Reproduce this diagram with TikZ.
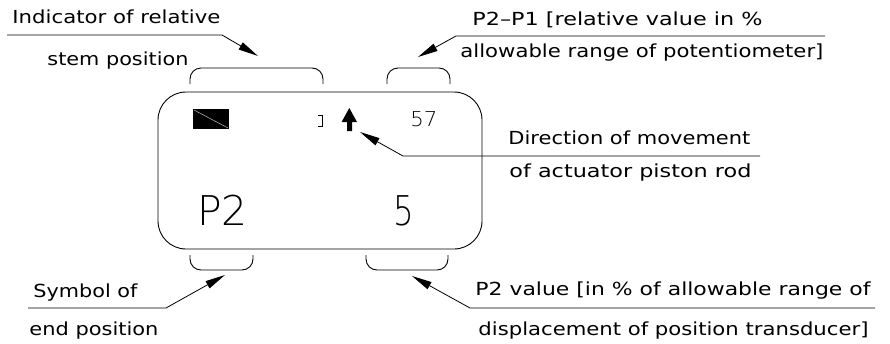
\documentclass[tikz,border=0pt]{standalone}
\usepackage{graphicx}
\usepackage{fontspec}
\setmainfont{DejaVu Sans}
\newfontfamily\thinfont{DejaVu Sans ExtraLight}
\usetikzlibrary{arrows.meta}
\newcommand\fw[2]{\resizebox{#1pt}{\height}{#2}}
\begin{document}
\begin{tikzpicture}[x=1pt,y=-1pt,line width=0.9pt,
  lbl/.style={font=\fontsize{18}{21}\selectfont,inner sep=0pt,anchor=base west},
  big/.style={font=\thinfont\fontsize{41}{45}\selectfont,inner sep=0pt,anchor=base west},
  mid/.style={font=\thinfont\fontsize{20.5}{24}\selectfont,inner sep=0pt,anchor=base west},
  lead/.style={line width=0.8pt,-{Triangle[length=20pt,width=8pt]}},
  brk/.style={line width=0.9pt,rounded corners=11pt}]
\useasboundingbox (0,0) rectangle (890,343);

% display body
\draw[rounded corners=28pt] (158,92) rectangle (482,249);

% brackets
\draw[brk] (190,84) -- (190,68) -- (323,68) -- (323,84);
\draw[brk] (387,84) -- (387,68) -- (450,68) -- (450,84);
\draw[brk] (190,255) -- (190,270) -- (253,270) -- (253,255);
\draw[brk] (366,255) -- (366,270) -- (448,270) -- (448,255);

% display contents
\fill (193,109) rectangle (229,129);
\draw[gray!50,line width=0.5pt] (194,110) -- (228,128);
\draw[line width=0.8pt] (318,115) -- (322.5,115) -- (322.5,126) -- (318,126);
\fill (349.3,108) -- (357,122) -- (352,122) -- (352,131) -- (347,131) -- (347,122) -- (341.6,122) -- cycle;
\coordinate (arrowsym) at (360,132);
\node[mid] (v57) at (410,126.7) {\fw{27}{57}};
\node[big] (vP2) at (196.7,225) {\fw{50.6}{P2}};
\node[big] (v5) at (392.7,225) {\fw{20.6}{5}};

% label 1
\node[lbl] (t1a) at (12,23) {\fw{208}{Indicator of relative}};
\node[lbl] (t1b) at (47,65) {\fw{141}{stem position}};
\coordinate (l1s) at (7,35);
\coordinate (l1b) at (222,35);
\coordinate (l1t) at (258,56);
\draw[lead] (l1s) -- (l1b) -- (l1t);

% label 2
\node[lbl] (t2a) at (472,25) {\fw{290}{P2–P1 [relative value in \%}};
\node[lbl] (t2b) at (460,57) {\fw{363}{allowable range of potentiometer]}};
\coordinate (l2s) at (825,36);
\coordinate (l2b) at (456,36);
\coordinate (l2t) at (418,57);
\draw[lead] (l2s) -- (l2b) -- (l2t);

% label 3
\node[lbl] (t3a) at (508,144) {\fw{242}{Direction of movement}};
\node[lbl] (t3b) at (509,177) {\fw{242}{of actuator piston rod}};
\coordinate (l3s) at (760,156);
\coordinate (l3b) at (403,156);
\draw[lead] (l3s) -- (l3b) -- (arrowsym);

% label 4
\node[lbl] (t4a) at (33,297) {\fw{104}{Symbol of}};
\node[lbl] (t4b) at (29,335) {\fw{129}{end position}};
\coordinate (l4s) at (28,308);
\coordinate (l4b) at (166,308);
\coordinate (l4t) at (225,275);
\draw[lead] (l4s) -- (l4b) -- (l4t);

% label 5
\node[lbl] (t5a) at (475,295) {\fw{395}{P2 value [in \% of allowable range of}};
\node[lbl] (t5b) at (478,335) {\fw{390}{displacement of position transducer]}};
\coordinate (l5s) at (875,308);
\coordinate (l5b) at (470,308);
\coordinate (l5t) at (412,276);
\draw[lead] (l5s) -- (l5b) -- (l5t);
\end{tikzpicture}
\end{document}
